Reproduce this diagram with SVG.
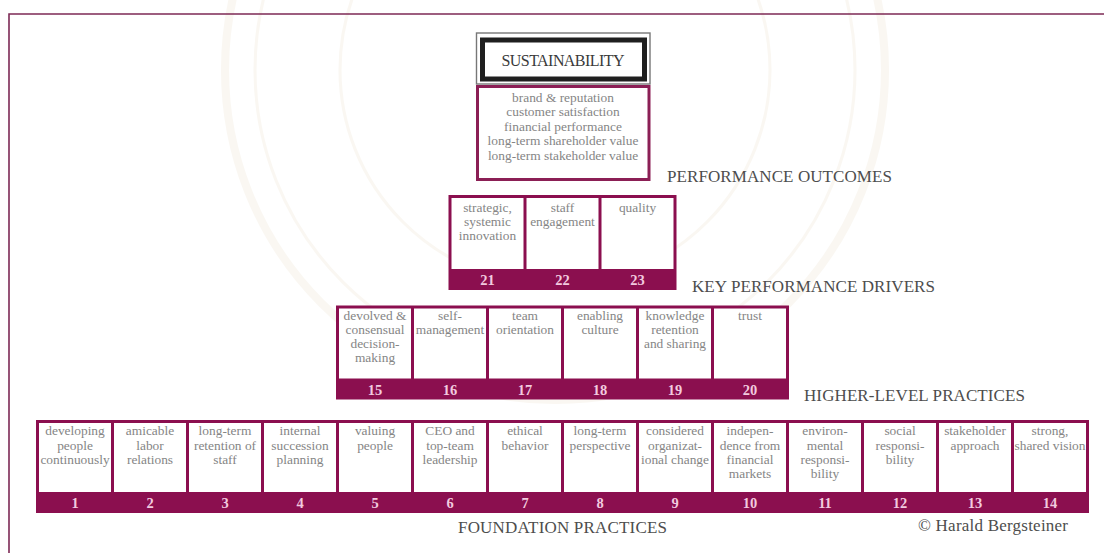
<svg xmlns="http://www.w3.org/2000/svg" width="1104" height="553" viewBox="0 0 1104 553">
  <style>
    .bar { fill: #8B0F4F; }
    .cell { fill: #ffffff; }
    .ct { font-family: "Liberation Serif", "DejaVu Serif", serif; font-size: 13.4px; fill: #858585; text-anchor: middle; }
    .num { font-family: "Liberation Serif", "DejaVu Serif", serif; font-size: 14.5px; font-weight: bold; fill: #F2CADF; text-anchor: middle; }
    .lab { font-family: "Liberation Serif", "DejaVu Serif", serif; font-size: 17px; fill: #4d4d4d; }
    .seal { fill: none; stroke: #EFE6D5; }
  </style>

  <rect width="1104" height="553" fill="#ffffff"/>

  <!-- faint seal in the background -->
  <g id="seal" opacity="0.3">
    <circle class="seal" cx="555" cy="70" r="330" stroke-width="8"/>
    <circle class="seal" cx="555" cy="70" r="300" stroke-width="3"/>
    <circle class="seal" cx="555" cy="70" r="215" stroke-width="3"/>
  </g>

  <!-- page frame -->
  <path d="M9,553 V14 H1104" fill="none" stroke="#7d2a55" stroke-width="1.6"/>

  <!-- top: sustainability and performance outcomes -->
  <g id="sustainability">
    <rect x="476.5" y="33" width="173.5" height="51" fill="#ffffff" stroke="#777777" stroke-width="1.4"/>
    <rect x="482.5" y="40" width="162" height="39" fill="none" stroke="#1f1f1f" stroke-width="5"/>
    <text x="563" y="65.5" font-family="Liberation Serif, DejaVu Serif, serif" font-size="16" fill="#3a3a3a" text-anchor="middle" textLength="123">SUSTAINABILITY</text>
  </g>

  <g id="outcomes">
    <rect x="477.5" y="86.5" width="171.5" height="93" fill="#ffffff" stroke="#8B1F55" stroke-width="3"/>
    <text class="ct" x="563" y="101.5">brand &amp; reputation</text>
    <text class="ct" x="563" y="116">customer satisfaction</text>
    <text class="ct" x="563" y="130.5">financial performance</text>
    <text class="ct" x="563" y="145">long-term shareholder value</text>
    <text class="ct" x="563" y="159.5">long-term stakeholder value</text>
  </g>
  <text id="label-outcomes" class="lab" x="667" y="182" textLength="225">PERFORMANCE OUTCOMES</text>

  <!-- key performance drivers -->
  <g id="drivers">
    <rect class="bar" x="448.5" y="195" width="228" height="95"/>
    <g id="d21">
      <rect class="cell" x="451.5" y="198" width="72" height="71"/>
      <text class="ct" x="487.5" y="211.6">strategic,</text>
      <text class="ct" x="487.5" y="225.8">systemic</text>
      <text class="ct" x="487.5" y="240">innovation</text>
      <text class="num" x="487.5" y="285">21</text>
    </g>
    <g id="d22">
      <rect class="cell" x="526.5" y="198" width="72" height="71"/>
      <text class="ct" x="562.5" y="211.6">staff</text>
      <text class="ct" x="562.5" y="225.8">engagement</text>
      <text class="num" x="562.5" y="285">22</text>
    </g>
    <g id="d23">
      <rect class="cell" x="601.5" y="198" width="72" height="71"/>
      <text class="ct" x="637.5" y="211.6">quality</text>
      <text class="num" x="637.5" y="285">23</text>
    </g>
  </g>
  <text id="label-drivers" class="lab" x="692" y="291.5" textLength="243">KEY PERFORMANCE DRIVERS</text>

  <!-- higher-level practices -->
  <g id="higher">
    <rect class="bar" x="336" y="305.5" width="453" height="94"/>
    <g id="p15">
      <rect class="cell" x="339" y="308.5" width="72" height="70"/>
      <text class="ct" x="375" y="320.2">devolved &amp;</text>
      <text class="ct" x="375" y="334.2">consensual</text>
      <text class="ct" x="375" y="348.2">decision-</text>
      <text class="ct" x="375" y="362.2">making</text>
      <text class="num" x="375" y="394.5">15</text>
    </g>
    <g id="p16">
      <rect class="cell" x="414" y="308.5" width="72" height="70"/>
      <text class="ct" x="450" y="320.2">self-</text>
      <text class="ct" x="450" y="334.2">management</text>
      <text class="num" x="450" y="394.5">16</text>
    </g>
    <g id="p17">
      <rect class="cell" x="489" y="308.5" width="72" height="70"/>
      <text class="ct" x="525" y="320.2">team</text>
      <text class="ct" x="525" y="334.2">orientation</text>
      <text class="num" x="525" y="394.5">17</text>
    </g>
    <g id="p18">
      <rect class="cell" x="564" y="308.5" width="72" height="70"/>
      <text class="ct" x="600" y="320.2">enabling</text>
      <text class="ct" x="600" y="334.2">culture</text>
      <text class="num" x="600" y="394.5">18</text>
    </g>
    <g id="p19">
      <rect class="cell" x="639" y="308.5" width="72" height="70"/>
      <text class="ct" x="675" y="320.2">knowledge</text>
      <text class="ct" x="675" y="334.2">retention</text>
      <text class="ct" x="675" y="348.2">and sharing</text>
      <text class="num" x="675" y="394.5">19</text>
    </g>
    <g id="p20">
      <rect class="cell" x="714" y="308.5" width="72" height="70"/>
      <text class="ct" x="750" y="320.2">trust</text>
      <text class="num" x="750" y="394.5">20</text>
    </g>
  </g>
  <text id="label-higher" class="lab" x="804" y="400.5" textLength="221">HIGHER-LEVEL PRACTICES</text>

  <!-- foundation practices -->
  <g id="foundation">
    <rect class="bar" x="36" y="420" width="1053" height="93"/>
    <g id="f1">
      <rect class="cell" x="39" y="423" width="72" height="69"/>
      <text class="ct" x="75" y="435.3">developing</text>
      <text class="ct" x="75" y="449.5">people</text>
      <text class="ct" x="75" y="463.7">continuously</text>
      <text class="num" x="75" y="507.5">1</text>
    </g>
    <g id="f2">
      <rect class="cell" x="114" y="423" width="72" height="69"/>
      <text class="ct" x="150" y="435.3">amicable</text>
      <text class="ct" x="150" y="449.5">labor</text>
      <text class="ct" x="150" y="463.7">relations</text>
      <text class="num" x="150" y="507.5">2</text>
    </g>
    <g id="f3">
      <rect class="cell" x="189" y="423" width="72" height="69"/>
      <text class="ct" x="225" y="435.3">long-term</text>
      <text class="ct" x="225" y="449.5">retention of</text>
      <text class="ct" x="225" y="463.7">staff</text>
      <text class="num" x="225" y="507.5">3</text>
    </g>
    <g id="f4">
      <rect class="cell" x="264" y="423" width="72" height="69"/>
      <text class="ct" x="300" y="435.3">internal</text>
      <text class="ct" x="300" y="449.5">succession</text>
      <text class="ct" x="300" y="463.7">planning</text>
      <text class="num" x="300" y="507.5">4</text>
    </g>
    <g id="f5">
      <rect class="cell" x="339" y="423" width="72" height="69"/>
      <text class="ct" x="375" y="435.3">valuing</text>
      <text class="ct" x="375" y="449.5">people</text>
      <text class="num" x="375" y="507.5">5</text>
    </g>
    <g id="f6">
      <rect class="cell" x="414" y="423" width="72" height="69"/>
      <text class="ct" x="450" y="435.3">CEO and</text>
      <text class="ct" x="450" y="449.5">top-team</text>
      <text class="ct" x="450" y="463.7">leadership</text>
      <text class="num" x="450" y="507.5">6</text>
    </g>
    <g id="f7">
      <rect class="cell" x="489" y="423" width="72" height="69"/>
      <text class="ct" x="525" y="435.3">ethical</text>
      <text class="ct" x="525" y="449.5">behavior</text>
      <text class="num" x="525" y="507.5">7</text>
    </g>
    <g id="f8">
      <rect class="cell" x="564" y="423" width="72" height="69"/>
      <text class="ct" x="600" y="435.3">long-term</text>
      <text class="ct" x="600" y="449.5">perspective</text>
      <text class="num" x="600" y="507.5">8</text>
    </g>
    <g id="f9">
      <rect class="cell" x="639" y="423" width="72" height="69"/>
      <text class="ct" x="675" y="435.3">considered</text>
      <text class="ct" x="675" y="449.5">organizat-</text>
      <text class="ct" x="675" y="463.7">ional change</text>
      <text class="num" x="675" y="507.5">9</text>
    </g>
    <g id="f10">
      <rect class="cell" x="714" y="423" width="72" height="69"/>
      <text class="ct" x="750" y="435.3">indepen-</text>
      <text class="ct" x="750" y="449.5">dence from</text>
      <text class="ct" x="750" y="463.7">financial</text>
      <text class="ct" x="750" y="477.9">markets</text>
      <text class="num" x="750" y="507.5">10</text>
    </g>
    <g id="f11">
      <rect class="cell" x="789" y="423" width="72" height="69"/>
      <text class="ct" x="825" y="435.3">environ-</text>
      <text class="ct" x="825" y="449.5">mental</text>
      <text class="ct" x="825" y="463.7">responsi-</text>
      <text class="ct" x="825" y="477.9">bility</text>
      <text class="num" x="825" y="507.5">11</text>
    </g>
    <g id="f12">
      <rect class="cell" x="864" y="423" width="72" height="69"/>
      <text class="ct" x="900" y="435.3">social</text>
      <text class="ct" x="900" y="449.5">responsi-</text>
      <text class="ct" x="900" y="463.7">bility</text>
      <text class="num" x="900" y="507.5">12</text>
    </g>
    <g id="f13">
      <rect class="cell" x="939" y="423" width="72" height="69"/>
      <text class="ct" x="975" y="435.3">stakeholder</text>
      <text class="ct" x="975" y="449.5">approach</text>
      <text class="num" x="975" y="507.5">13</text>
    </g>
    <g id="f14">
      <rect class="cell" x="1014" y="423" width="72" height="69"/>
      <text class="ct" x="1050" y="435.3">strong,</text>
      <text class="ct" x="1050" y="449.5">shared vision</text>
      <text class="num" x="1050" y="507.5">14</text>
    </g>
  </g>
  <text id="label-foundation" class="lab" x="458" y="533" textLength="209">FOUNDATION PRACTICES</text>

  <text id="credit" class="lab" x="918" y="531" font-size="17.5" textLength="150">© Harald Bergsteiner</text>
</svg>
